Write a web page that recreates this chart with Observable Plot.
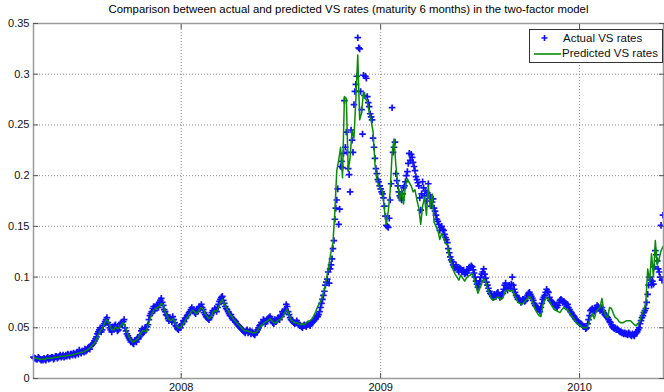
<!DOCTYPE html>
<html>
<head>
<meta charset="utf-8">
<script src="https://cdn.jsdelivr.net/npm/d3@7"></script>
<script src="https://cdn.jsdelivr.net/npm/@observablehq/plot@0.6"></script>
<style>
  body { margin: 0; background: #fff; }
  #wrap { position: relative; width: 664px; height: 392px; font-family: "Liberation Sans", Arial, sans-serif; color: #111; }
  #title { position: absolute; left: 33px; width: 631px; top: 1px; height: 16px; line-height: 16px; text-align: center; font-size: 11.4px; color: #000; }
  #chart { position: absolute; left: 0; top: 16px; }
  #legend { position: absolute; left: 529px; top: 29px; width: 132px; height: 32px; border: 1px solid #333; background: #fff; font-size: 11.5px; }
  #legend .row { position: absolute; left: 0; height: 16px; line-height: 16px; white-space: nowrap; }
  #legend svg { position: absolute; left: 0; top: 0; }
</style>
</head>
<body>
<div id="wrap">
  <div id="title">Comparison between actual and predicted VS rates (maturity 6 months) in the two-factor model</div>
  <div id="chart"></div>
  <div id="legend">
    <div class="row" style="top:0">
      <svg width="34" height="16"><path d="M14.5,5V11M11.5,8H17.5" stroke="#1010ff" stroke-width="1.6" fill="none"/></svg>
      <span style="position:absolute;left:33px">Actual VS rates</span>
    </div>
    <div class="row" style="top:15px">
      <svg width="34" height="16"><path d="M4,9H31" stroke="#0a8a0a" stroke-width="1.6" fill="none"/></svg>
      <span style="position:absolute;left:32px">Predicted VS rates</span>
    </div>
  </div>
</div>
<script>
// Model dates are spaced half a week apart (every 84 hours) from the first date;
// the extra market observations fall halfway between them.
const firstDate = "2007-04-05";
const stepHours = 84;

// Actual 6-month variance-swap rates on the model dates
const actualVS = [
  0.021, 0.020, 0.019, 0.020, 0.018, 0.018, 0.019, 0.020, 0.019, 0.020,
  0.021, 0.020, 0.022, 0.021, 0.023, 0.022, 0.021, 0.023, 0.024, 0.022,
  0.024, 0.025, 0.023, 0.026, 0.028, 0.025, 0.027, 0.029, 0.028, 0.031,
  0.032, 0.034, 0.037, 0.041, 0.046, 0.050, 0.048, 0.054, 0.058, 0.055,
  0.050, 0.046, 0.049, 0.053, 0.047, 0.051, 0.055, 0.056, 0.050, 0.044,
  0.040, 0.036, 0.035, 0.037, 0.036, 0.039, 0.043, 0.049, 0.046, 0.048,
  0.053, 0.062, 0.066, 0.071, 0.069, 0.073, 0.075, 0.079, 0.072, 0.066,
  0.062, 0.057, 0.058, 0.061, 0.055, 0.051, 0.048, 0.050, 0.054, 0.056,
  0.060, 0.063, 0.066, 0.070, 0.068, 0.064, 0.066, 0.071, 0.073, 0.068,
  0.063, 0.060, 0.058, 0.062, 0.067, 0.069, 0.066, 0.073, 0.078, 0.081,
  0.074, 0.069, 0.066, 0.062, 0.060, 0.058, 0.056, 0.053, 0.051, 0.049,
  0.047, 0.045, 0.048, 0.046, 0.044, 0.045, 0.043, 0.046, 0.050, 0.053,
  0.055, 0.057, 0.056, 0.059, 0.061, 0.057, 0.054, 0.056, 0.059, 0.058,
  0.061, 0.064, 0.068, 0.071, 0.063, 0.058, 0.056, 0.054, 0.057, 0.053,
  0.052, 0.050, 0.053, 0.051, 0.054, 0.052, 0.055, 0.057, 0.059, 0.061,
  0.066, 0.074, 0.082, 0.092, 0.098, 0.094, 0.112, 0.128, 0.157, 0.176,
  0.152, 0.209, 0.208, 0.274, 0.243, 0.207, 0.184, 0.235, 0.270, 0.290,
  0.336, 0.325, 0.265, 0.299, 0.298, 0.278, 0.268, 0.258, 0.237, 0.217,
  0.202, 0.194, 0.187, 0.182, 0.170, 0.151, 0.149, 0.176, 0.267, 0.228,
  0.202, 0.190, 0.180, 0.176, 0.188, 0.194, 0.204, 0.222, 0.221, 0.213,
  0.205, 0.196, 0.190, 0.166, 0.194, 0.180, 0.175, 0.192, 0.178, 0.174,
  0.168, 0.161, 0.155, 0.146, 0.150, 0.146, 0.139, 0.134, 0.124, 0.117,
  0.112, 0.109, 0.110, 0.105, 0.108, 0.105, 0.103, 0.106, 0.107, 0.109,
  0.110, 0.104, 0.096, 0.090, 0.096, 0.103, 0.108, 0.099, 0.092, 0.086,
  0.083, 0.080, 0.082, 0.084, 0.082, 0.081, 0.084, 0.092, 0.089, 0.090,
  0.089, 0.100, 0.088, 0.082, 0.078, 0.077, 0.076, 0.078, 0.077, 0.082,
  0.085, 0.081, 0.077, 0.072, 0.070, 0.068, 0.070, 0.078, 0.082, 0.088,
  0.085, 0.077, 0.075, 0.073, 0.071, 0.072, 0.077, 0.077, 0.076, 0.074,
  0.073, 0.068, 0.065, 0.062, 0.059, 0.057, 0.055, 0.054, 0.052, 0.051,
  0.050, 0.058, 0.067, 0.069, 0.066, 0.070, 0.071, 0.067, 0.070, 0.065,
  0.062, 0.060, 0.056, 0.053, 0.050, 0.050, 0.049, 0.047, 0.046, 0.045,
  0.045, 0.044, 0.045, 0.043, 0.044, 0.042, 0.045, 0.048, 0.054, 0.060,
  0.065, 0.069, 0.083, 0.100, 0.092, 0.093, 0.126, 0.116, 0.105, 0.151,
  0.161
];

// Actual rates observed halfway between consecutive model dates
const actualVSMid = [
  0.020, 0.019, 0.021, 0.019, 0.019, 0.020, 0.018, 0.021, 0.020, 0.021,
  0.019, 0.022, 0.020, 0.022, 0.021, 0.023, 0.022, 0.022, 0.023, 0.024,
  0.023, 0.024, 0.025, 0.024, 0.026, 0.027, 0.026, 0.027, 0.030, 0.029,
  0.033, 0.035, 0.039, 0.044, 0.048, 0.046, 0.052, 0.056, 0.060, 0.053,
  0.048, 0.051, 0.052, 0.050, 0.048, 0.054, 0.053, 0.058, 0.047, 0.042,
  0.038, 0.037, 0.034, 0.038, 0.040, 0.041, 0.047, 0.045, 0.050, 0.051,
  0.058, 0.064, 0.069, 0.067, 0.072, 0.070, 0.077, 0.075, 0.068, 0.063,
  0.059, 0.060, 0.056, 0.058, 0.052, 0.049, 0.051, 0.053, 0.057, 0.059,
  0.062, 0.065, 0.068, 0.067, 0.065, 0.068, 0.069, 0.070, 0.070, 0.065,
  0.061, 0.059, 0.060, 0.065, 0.066, 0.068, 0.070, 0.076, 0.080, 0.077,
  0.071, 0.068, 0.064, 0.063, 0.058, 0.057, 0.054, 0.052, 0.050, 0.048,
  0.046, 0.047, 0.045, 0.047, 0.046, 0.044, 0.045, 0.048, 0.052, 0.055,
  0.058, 0.054, 0.058, 0.060, 0.059, 0.055, 0.058, 0.057, 0.060, 0.062,
  0.066, 0.067, 0.073, 0.066, 0.060, 0.057, 0.055, 0.055, 0.055, 0.052,
  0.051, 0.052, 0.052, 0.053, 0.053, 0.054, 0.056, 0.058, 0.062, 0.063,
  0.070, 0.078, 0.086, 0.095, 0.105, 0.108, 0.118, 0.136, 0.168, 0.187,
  0.167, 0.214, 0.222, 0.228, 0.223, 0.201, 0.245, 0.223, 0.283, 0.298,
  0.326, 0.283, 0.241, 0.279, 0.296, 0.272, 0.261, 0.255, 0.228, 0.207,
  0.196, 0.190, 0.184, 0.178, 0.160, 0.150, 0.158, 0.192, 0.223, 0.233,
  0.195, 0.184, 0.178, 0.182, 0.190, 0.200, 0.212, 0.215, 0.218, 0.209,
  0.199, 0.193, 0.178, 0.182, 0.188, 0.185, 0.183, 0.181, 0.170, 0.177,
  0.165, 0.157, 0.152, 0.149, 0.147, 0.142, 0.137, 0.128, 0.120, 0.115,
  0.110, 0.112, 0.107, 0.109, 0.106, 0.107, 0.104, 0.104, 0.110, 0.111,
  0.107, 0.100, 0.093, 0.093, 0.100, 0.105, 0.103, 0.095, 0.089, 0.084,
  0.081, 0.083, 0.081, 0.085, 0.080, 0.083, 0.088, 0.094, 0.087, 0.092,
  0.093, 0.092, 0.085, 0.080, 0.079, 0.075, 0.078, 0.076, 0.080, 0.084,
  0.083, 0.079, 0.074, 0.071, 0.069, 0.066, 0.074, 0.080, 0.085, 0.086,
  0.080, 0.076, 0.074, 0.072, 0.070, 0.075, 0.078, 0.075, 0.075, 0.071,
  0.070, 0.066, 0.063, 0.061, 0.058, 0.056, 0.054, 0.053, 0.051, 0.049,
  0.054, 0.062, 0.068, 0.067, 0.069, 0.072, 0.069, 0.068, 0.067, 0.063,
  0.061, 0.058, 0.055, 0.051, 0.049, 0.048, 0.048, 0.046, 0.045, 0.044,
  0.044, 0.043, 0.044, 0.042, 0.043, 0.044, 0.046, 0.050, 0.057, 0.062,
  0.067, 0.075, 0.092, 0.097, 0.096, 0.110, 0.122, 0.108, 0.100, 0.097
];

// Rates predicted by the two-factor model on the model dates
const predictedVS = [
  0.021, 0.020, 0.020, 0.019, 0.019, 0.019, 0.019, 0.020, 0.020, 0.020,
  0.020, 0.021, 0.021, 0.021, 0.022, 0.022, 0.022, 0.022, 0.023, 0.023,
  0.023, 0.024, 0.024, 0.025, 0.025, 0.026, 0.026, 0.027, 0.028, 0.029,
  0.031, 0.033, 0.035, 0.039, 0.043, 0.047, 0.049, 0.053, 0.058, 0.057,
  0.052, 0.048, 0.048, 0.051, 0.049, 0.050, 0.053, 0.055, 0.052, 0.046,
  0.041, 0.038, 0.036, 0.037, 0.038, 0.040, 0.044, 0.047, 0.047, 0.046,
  0.052, 0.058, 0.064, 0.067, 0.069, 0.070, 0.071, 0.074, 0.073, 0.066,
  0.062, 0.058, 0.057, 0.059, 0.056, 0.052, 0.050, 0.050, 0.053, 0.055,
  0.059, 0.061, 0.064, 0.067, 0.067, 0.064, 0.065, 0.068, 0.070, 0.068,
  0.064, 0.061, 0.059, 0.061, 0.065, 0.067, 0.066, 0.070, 0.075, 0.078,
  0.074, 0.070, 0.067, 0.063, 0.061, 0.058, 0.056, 0.054, 0.052, 0.050,
  0.048, 0.047, 0.047, 0.046, 0.046, 0.045, 0.045, 0.046, 0.049, 0.052,
  0.053, 0.055, 0.056, 0.057, 0.059, 0.057, 0.055, 0.055, 0.057, 0.058,
  0.059, 0.062, 0.066, 0.068, 0.063, 0.058, 0.056, 0.055, 0.055, 0.054,
  0.053, 0.054, 0.053, 0.055, 0.056, 0.057, 0.059, 0.062, 0.066, 0.071,
  0.074, 0.078, 0.084, 0.092, 0.103, 0.114, 0.125, 0.134, 0.165, 0.205,
  0.215, 0.228, 0.198, 0.278, 0.276, 0.205, 0.218, 0.245, 0.237, 0.275,
  0.319, 0.255, 0.262, 0.283, 0.276, 0.273, 0.262, 0.254, 0.244, 0.212,
  0.196, 0.190, 0.187, 0.184, 0.166, 0.152, 0.165, 0.185, 0.222, 0.236,
  0.210, 0.192, 0.175, 0.186, 0.172, 0.190, 0.197, 0.193, 0.190, 0.184,
  0.186, 0.176, 0.168, 0.152, 0.170, 0.179, 0.161, 0.190, 0.168, 0.182,
  0.154, 0.150, 0.146, 0.137, 0.143, 0.139, 0.133, 0.132, 0.120, 0.114,
  0.107, 0.103, 0.100, 0.097, 0.102, 0.099, 0.096, 0.099, 0.101, 0.102,
  0.103, 0.098, 0.091, 0.084, 0.089, 0.094, 0.098, 0.096, 0.089, 0.084,
  0.079, 0.077, 0.078, 0.080, 0.080, 0.078, 0.079, 0.085, 0.087, 0.087,
  0.086, 0.087, 0.083, 0.079, 0.075, 0.074, 0.073, 0.075, 0.077, 0.079,
  0.081, 0.078, 0.074, 0.068, 0.065, 0.062, 0.061, 0.072, 0.077, 0.080,
  0.078, 0.074, 0.071, 0.068, 0.067, 0.066, 0.065, 0.068, 0.070, 0.068,
  0.068, 0.065, 0.062, 0.060, 0.057, 0.054, 0.053, 0.052, 0.050, 0.050,
  0.050, 0.054, 0.060, 0.064, 0.059, 0.066, 0.068, 0.070, 0.079, 0.067,
  0.062, 0.060, 0.070, 0.069, 0.064, 0.060, 0.059, 0.056, 0.055, 0.055,
  0.056, 0.057, 0.057, 0.057, 0.055, 0.053, 0.052, 0.054, 0.057, 0.064,
  0.068, 0.075, 0.108, 0.095, 0.123, 0.100, 0.136, 0.112, 0.118, 0.126,
  0.130
];

const xDomain = ["2007-04-05", "2010-06-04"];
const xTicks = ["2008-01-01", "2009-01-01", "2010-01-01"];
const yTicks = [0, 0.05, 0.1, 0.15, 0.2, 0.25, 0.3, 0.35];

const t0 = new Date(firstDate + "T00:00:00Z");
const at = k => new Date(+t0 + k * stepHours * 3600e3);
const modelRows = predictedVS.map((p, i) => ({date: at(i), predicted: p}));
const marketRows = [
  ...actualVS.map((a, i) => ({date: at(i), actual: a})),
  ...actualVSMid.map((a, i) => ({date: at(i + 0.5), actual: a}))
];
const tickDates = xTicks.map(d => new Date(d + "T00:00:00Z"));

// thin "+" marker
const plusSymbol = {
  draw(context, size) {
    const r = Math.sqrt(size / Math.PI);
    context.moveTo(-r, 0); context.lineTo(r, 0);
    context.moveTo(0, -r); context.lineTo(0, r);
  }
};

const gridStyle = {stroke: "#8a8a8a", strokeDasharray: "1,2", strokeWidth: 1};
const tickFmt = d => d === 0 ? "0" : String(+d.toFixed(2));

const chart = Plot.plot({
  width: 664,
  height: 376,
  marginTop: 7,
  marginBottom: 14,
  marginLeft: 33,
  marginRight: 1,
  style: {fontFamily: "'Liberation Sans', Arial, sans-serif", fontSize: "11px", color: "#111", background: "#fff"},
  x: {type: "utc", domain: xDomain.map(d => new Date(d + "T00:00:00Z"))},
  y: {domain: [0, 0.35]},
  marks: [
    Plot.ruleX(tickDates, gridStyle),
    Plot.ruleY(yTicks.slice(1, -1), gridStyle),
    Plot.dot(marketRows, {x: "date", y: "actual", symbol: plusSymbol, r: 3.3, stroke: "#1010ff", strokeWidth: 1.7, fill: "none"}),
    Plot.line(modelRows, {x: "date", y: "predicted", stroke: "#0a8a0a", strokeWidth: 1.5}),
    Plot.frame({stroke: "#9a9a9a", strokeWidth: 1.5}),
    Plot.axisY({ticks: yTicks, anchor: "left", tickSize: -5, fill: "none", stroke: "#555", label: null}),
    Plot.axisY({ticks: yTicks, anchor: "right", tickSize: -5, fill: "none", stroke: "#555", label: null}),
    Plot.axisY({ticks: yTicks, anchor: "left", tickSize: 0, tickPadding: 4, tickFormat: tickFmt, label: null}),
    Plot.axisX({ticks: tickDates, anchor: "bottom", tickSize: -5, fill: "none", stroke: "#555", label: null}),
    Plot.axisX({ticks: tickDates, anchor: "top", tickSize: -5, fill: "none", stroke: "#555", label: null}),
    Plot.axisX({ticks: tickDates, anchor: "bottom", tickSize: 0, tickPadding: 5, tickFormat: d3.utcFormat("%Y"), label: null})
  ]
});
document.getElementById("chart").appendChild(chart);
</script>
</body>
</html>
